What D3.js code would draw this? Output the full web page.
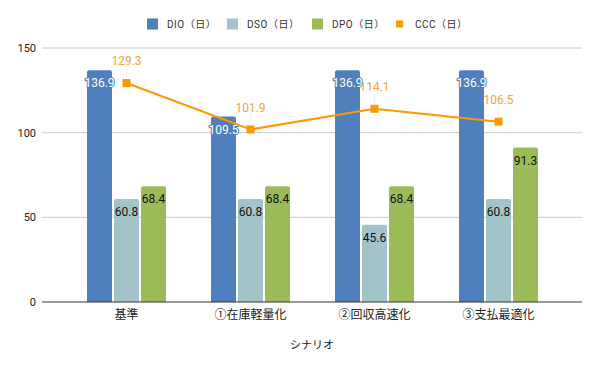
<!DOCTYPE html>
<html><head><meta charset="utf-8">
<script src="https://cdn.jsdelivr.net/npm/d3@7"></script>
<style>body{margin:0;background:#fff}svg{display:block}</style>
</head><body><svg id="c" width="600" height="371"></svg>
<script>
const categories = ["基準", "①在庫軽量化", "②回収高速化", "③支払最適化"];
const dio = [136.9, 109.5, 136.9, 136.9];
const dso = [60.8, 60.8, 45.6, 60.8];
const dpo = [68.4, 68.4, 68.4, 91.3];
const ccc = [129.3, 101.9, 114.1, 106.5];
const yTicks = [0, 50, 100, 150];
const seriesNames = ["DIO（日）", "DSO（日）", "DPO（日）", "CCC（日）"];

const colors = {DIO: "#4f7fbd", DSO: "#a2c4c9", DPO: "#9bbb59", CCC: "#ff9900"};
const svg = d3.select("#c");
const font = "Roboto, 'Noto Sans CJK JP', sans-serif";

const x = d3.scaleBand().domain(categories).range([64.5, 560.5]);
const barKeys = ["DIO", "DSO", "DPO"];
const x1 = d3.scaleBand().domain(barKeys).range([-39.5, 39.5]).paddingInner(0.075);
const y = d3.scaleLinear().domain([0, 150]).range([302, 48]);

// gridlines
svg.append("g").selectAll("line").data(yTicks.filter(d => d > 0)).join("line")
  .attr("x1", 42).attr("x2", 582).attr("y1", d => y(d)).attr("y2", d => y(d))
  .attr("stroke", "#cccccc").attr("stroke-width", 1);

// y labels
svg.append("g").selectAll("text").data(yTicks).join("text")
  .attr("x", 36).attr("y", d => y(d)).attr("dy", "0.35em").attr("text-anchor", "end")
  .attr("font-family", font).attr("font-size", 11).attr("fill", "#222").text(d => d);

const seriesData = {DIO: dio, DSO: dso, DPO: dpo};
const barData = [];
categories.forEach((c, i) => barKeys.forEach(k => barData.push({c, k, v: seriesData[k][i]})));

// bars
svg.append("g").selectAll("path").data(barData).join("path")
  .attr("d", d => {
    const x0 = x(d.c) + x.bandwidth() / 2 + x1(d.k), w = x1.bandwidth();
    const t = y(d.v), b = y(0), r = 2;
    return `M${x0},${b}V${t + r}Q${x0},${t} ${x0 + r},${t}H${x0 + w - r}Q${x0 + w},${t} ${x0 + w},${t + r}V${b}Z`;
  })
  .attr("fill", d => colors[d.k]);

// baseline
svg.append("line").attr("x1", 42).attr("x2", 582).attr("y1", y(0)).attr("y2", y(0))
  .attr("stroke", "#333").attr("stroke-width", 1);

// bar labels
svg.append("g").selectAll("text").data(barData).join("text")
  .attr("x", d => x(d.c) + x.bandwidth() / 2 + x1(d.k) + x1.bandwidth() / 2)
  .attr("y", d => y(d.v) + 13).attr("dy", "0.35em").attr("text-anchor", "middle")
  .attr("font-family", font).attr("font-size", 12)
  .attr("fill", d => d.k === "DIO" ? "#fff" : "#111")
  .attr("stroke", d => d.k === "DIO" ? "#4f7fbd" : "none").attr("stroke-width", 2)
  .attr("paint-order", "stroke").attr("stroke-linejoin", "round")
  .text(d => d.v.toFixed(1));

// CCC line
const cx = (c) => x(c) + x.bandwidth() / 2;
const line = d3.line().x((d, i) => cx(categories[i])).y(d => y(d));
svg.append("path").datum(ccc).attr("d", line).attr("fill", "none")
  .attr("stroke", colors.CCC).attr("stroke-width", 2);

// leader lines
svg.append("g").selectAll("line").data(ccc).join("line")
  .attr("x1", (d, i) => cx(categories[i])).attr("x2", (d, i) => cx(categories[i]))
  .attr("y1", d => y(d) - 15).attr("y2", d => y(d) - 5)
  .attr("stroke", "#eeeeee").attr("stroke-width", 1);

svg.append("g").selectAll("rect").data(ccc).join("rect")
  .attr("x", (d, i) => cx(categories[i]) - 4).attr("y", d => y(d) - 4)
  .attr("width", 8).attr("height", 8).attr("fill", colors.CCC);

svg.append("g").selectAll("text").data(ccc).join("text")
  .attr("x", (d, i) => cx(categories[i])).attr("y", d => y(d) - 22).attr("dy", "0.35em")
  .attr("text-anchor", "middle").attr("font-family", font).attr("font-size", 12)
  .attr("fill", "#f2a43a").text(d => d.toFixed(1));

// x labels
svg.append("g").selectAll("text").data(categories).join("text")
  .attr("x", d => cx(d)).attr("y", 315).attr("dy", "0.35em").attr("text-anchor", "middle")
  .attr("font-family", font).attr("font-size", 12).attr("fill", "#222").text(d => d);

svg.append("text").attr("x", 312).attr("y", 345).attr("dy", "0.35em").attr("text-anchor", "middle")
  .attr("font-family", font).attr("font-size", 11).attr("fill", "#222").text("シナリオ");

// legend
const legendX = [147, 227, 312, 395];
const legendKeys = ["DIO", "DSO", "DPO", "CCC"];
const lg = svg.append("g");
legendKeys.forEach((k, i) => {
  const s = k === "CCC" ? 7 : 11;
  lg.append("rect").attr("x", legendX[i] + (k === "CCC" ? 1 : 0)).attr("y", 24 - s / 2)
    .attr("width", s).attr("height", s).attr("fill", colors[k]);
  lg.append("text").attr("x", legendX[i] + 20).attr("y", 24).attr("dy", "0.35em")
    .attr("font-family", font).attr("font-size", 10).attr("fill", "#333")
    .attr("letter-spacing", 0.5).text(seriesNames[i]);
});
</script></body></html>
